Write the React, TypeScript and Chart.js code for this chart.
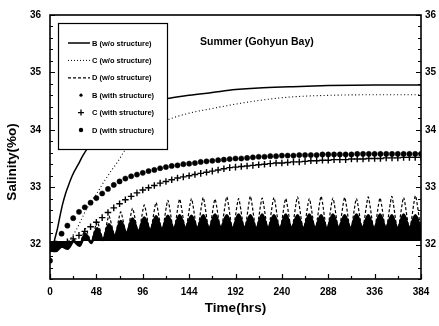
import { useEffect, useRef } from 'react';
import { Chart, registerables } from 'chart.js';

Chart.register(...registerables);

// ---- tick labels / tick positions ----
const X_TICKS = [0, 48, 96, 144, 192, 240, 288, 336, 384];
const X_MINOR = [0, 24, 48, 72, 96, 120, 144, 168, 192, 216, 240, 264, 288, 312, 336, 360, 384];
const Y_TICKS = [32, 33, 34, 35, 36];
const Y_MINOR = [31.4, 31.6, 31.8, 32, 32.2, 32.4, 32.6, 32.8, 33, 33.2, 33.4, 33.6, 33.8, 34, 34.2, 34.4, 34.6, 34.8, 35, 35.2, 35.4, 35.6, 35.8, 36];

const LABELS = [
  'B (w/o structure)',
  'C (w/o structure)',
  'D (w/o structure)',
  'B (with structure)',
  'C (with structure)',
  'D (with structure)',
];

// ---- B (w/o structure): solid ----
const B_WO_T = [0, 3, 5, 8, 10, 13, 16, 18, 23, 30, 34, 39, 48, 60, 72, 84, 96, 108, 120, 144, 168, 192, 216, 248, 288, 336, 384];
const B_WO = [31.9, 31.97, 32.1, 32.3, 32.47, 32.7, 32.88, 32.98, 33.2, 33.42, 33.55, 33.68, 33.86, 34.05, 34.2, 34.32, 34.42, 34.49, 34.54, 34.6, 34.65, 34.7, 34.73, 34.75, 34.77, 34.78, 34.78];

// ---- C (w/o structure): dotted ----
const C_WO_T = [0, 6, 12, 18, 21, 24, 28, 32, 36, 40, 44, 48, 56, 64, 70, 77, 84, 96, 108, 121, 144, 168, 183, 216, 248, 288, 336, 384];
const C_WO = [31.92, 31.94, 31.97, 32.04, 32.1, 32.17, 32.28, 32.42, 32.56, 32.68, 32.79, 32.88, 33.1, 33.3, 33.44, 33.63, 33.78, 33.96, 34.07, 34.17, 34.29, 34.37, 34.42, 34.51, 34.57, 34.6, 34.61, 34.61];

// ---- tidal series: peaks / troughs ----
const OSC_T = [0, 6.1, 12.2, 18.3, 24.4, 30.5, 36.6, 42.7, 48.8, 54.9, 61, 67.1, 73.2, 79.3, 85.4, 91.5, 97.6, 103.7, 109.8, 115.9, 122, 128.1, 134.2, 140.3, 146.4, 152.5, 158.6, 164.7, 170.8, 176.9, 183, 189.1, 195.2, 201.3, 207.4, 213.5, 219.6, 225.7, 231.8, 237.9, 244, 250.1, 256.2, 262.3, 268.4, 274.5, 280.6, 286.7, 292.8, 298.9, 305, 311.1, 317.2, 323.3, 329.4, 335.5, 341.6, 347.7, 353.8, 359.9, 366, 372.1, 378.2, 384];

// D (w/o structure): dashed
const D_WO = [31.9, 31.9, 31.98, 31.94, 32.1, 31.99, 32.28, 32.05, 32.4, 32.1, 32.5, 32.14, 32.57, 32.17, 32.63, 32.2, 32.69, 32.22, 32.73, 32.23, 32.77, 32.24, 32.79, 32.25, 32.8, 32.25, 32.82, 32.24, 32.79, 32.25, 32.83, 32.24, 32.8, 32.25, 32.84, 32.24, 32.81, 32.25, 32.82, 32.24, 32.8, 32.25, 32.83, 32.24, 32.8, 32.25, 32.84, 32.24, 32.81, 32.25, 32.82, 32.24, 32.8, 32.25, 32.83, 32.24, 32.81, 32.25, 32.84, 32.24, 32.82, 32.25, 32.85, 32.22];

// B (with structure): dense band
const B_WITH = [31.9, 31.89, 31.97, 31.93, 32.06, 31.98, 32.18, 32.03, 32.28, 32.08, 32.35, 32.14, 32.41, 32.19, 32.45, 32.22, 32.47, 32.24, 32.49, 32.26, 32.5, 32.27, 32.51, 32.28, 32.5, 32.28, 32.51, 32.27, 32.52, 32.28, 32.51, 32.27, 32.52, 32.28, 32.51, 32.27, 32.52, 32.28, 32.51, 32.27, 32.52, 32.28, 32.51, 32.27, 32.52, 32.28, 32.51, 32.27, 32.52, 32.28, 32.51, 32.27, 32.52, 32.28, 32.51, 32.27, 32.52, 32.28, 32.51, 32.27, 32.52, 32.28, 32.51, 32.24];

// ---- marker series every 6 hours ----
const HOURS = [0, 6, 12, 18, 24, 30, 36, 42, 48, 54, 60, 66, 72, 78, 84, 90, 96, 102, 108, 114, 120, 126, 132, 138, 144, 150, 156, 162, 168, 174, 180, 186, 192, 198, 204, 210, 216, 222, 228, 234, 240, 246, 252, 258, 264, 270, 276, 282, 288, 294, 300, 306, 312, 318, 324, 330, 336, 342, 348, 354, 360, 366, 372, 378, 384];

// C (with structure): plus markers
const C_WITH = [31.92, 31.97, 32.0, 32.05, 32.1, 32.16, 32.23, 32.31, 32.39, 32.47, 32.56, 32.64, 32.71, 32.78, 32.84, 32.9, 32.95, 32.99, 33.03, 33.07, 33.1, 33.13, 33.16, 33.18, 33.2, 33.22, 33.24, 33.26, 33.28, 33.3, 33.32, 33.34, 33.35, 33.36, 33.37, 33.38, 33.39, 33.4, 33.41, 33.42, 33.42, 33.43, 33.44, 33.44, 33.45, 33.46, 33.46, 33.47, 33.47, 33.48, 33.48, 33.48, 33.49, 33.49, 33.49, 33.5, 33.5, 33.5, 33.51, 33.51, 33.51, 33.52, 33.52, 33.52, 33.52];

// D (with structure): filled circles
const D_WITH = [31.72, 32.02, 32.19, 32.33, 32.46, 32.57, 32.65, 32.73, 32.81, 32.89, 32.97, 33.04, 33.1, 33.15, 33.19, 33.22, 33.25, 33.28, 33.3, 33.33, 33.35, 33.37, 33.38, 33.4, 33.41, 33.42, 33.44, 33.45, 33.46, 33.47, 33.48, 33.49, 33.5, 33.5, 33.51, 33.52, 33.53, 33.53, 33.54, 33.54, 33.55, 33.55, 33.55, 33.56, 33.56, 33.56, 33.56, 33.57, 33.57, 33.57, 33.57, 33.57, 33.57, 33.58, 33.58, 33.58, 33.58, 33.58, 33.58, 33.58, 33.58, 33.58, 33.58, 33.58, 33.58];

const TITLE = 'Summer (Gohyun Bay)';
const X_TITLE = 'Time(hrs)';
const Y_TITLE = 'Salinity(%o)';

const FAMILY = '"Liberation Sans", Arial, Helvetica, sans-serif';

function pts(xs: number[], ys: number[]) {
  return xs.map((x, i) => ({ x, y: ys[i] }));
}

export default function App() {
  const ref = useRef<HTMLCanvasElement>(null);

  useEffect(() => {
    if (!ref.current) return;

    const decor = {
      id: 'decor',
      afterDraw(chart: any) {
        const { ctx, chartArea: a, scales } = chart;
        const xs = scales.x;
        const ys = scales.y;
        ctx.save();
        ctx.strokeStyle = '#000';
        ctx.fillStyle = '#000';

        // inward ticks
        ctx.lineWidth = 1.2;
        ctx.beginPath();
        X_MINOR.forEach((v) => {
          const px = Math.round(xs.getPixelForValue(v)) + 0.5;
          const len = X_TICKS.includes(v) ? 5 : 3;
          ctx.moveTo(px, a.bottom);
          ctx.lineTo(px, a.bottom - len);
        });
        Y_MINOR.forEach((v) => {
          const py = Math.round(ys.getPixelForValue(v)) + 0.5;
          const len = Y_TICKS.includes(v) ? 5 : 3;
          ctx.moveTo(a.left, py);
          ctx.lineTo(a.left + len, py);
          ctx.moveTo(a.right, py);
          ctx.lineTo(a.right - len, py);
        });
        ctx.stroke();

        // frame
        ctx.lineWidth = 1.6;
        ctx.strokeRect(a.left, a.top, a.right - a.left, a.bottom - a.top);

        // legend box
        const bx = a.left + 8;
        const by = a.top + 8;
        const bw = 109;
        const bh = 126;
        ctx.fillStyle = '#fff';
        ctx.fillRect(bx, by, bw, bh);
        ctx.fillStyle = '#000';
        ctx.lineWidth = 1.2;
        ctx.strokeRect(bx + 0.5, by + 0.5, bw, bh);

        const rowY0 = by + 20;
        const step = 17.4;
        const sx0 = bx + 10;
        const sx1 = bx + 32;
        const mx = bx + 23;
        ctx.font = `bold 7.5px ${FAMILY}`;
        ctx.textAlign = 'left';
        ctx.textBaseline = 'middle';
        LABELS.forEach((lab, i) => {
          const yy = rowY0 + i * step;
          ctx.save();
          if (i === 0) {
            ctx.lineWidth = 1.5;
            ctx.setLineDash([]);
          } else if (i === 1) {
            ctx.lineWidth = 1;
            ctx.setLineDash([1, 2]);
          } else if (i === 2) {
            ctx.lineWidth = 1.2;
            ctx.setLineDash([3, 2]);
          }
          if (i < 3) {
            ctx.beginPath();
            ctx.moveTo(sx0, yy);
            ctx.lineTo(sx1, yy);
            ctx.stroke();
          } else if (i === 3) {
            ctx.beginPath();
            ctx.arc(mx, yy, 1.6, 0, Math.PI * 2);
            ctx.fill();
          } else if (i === 4) {
            ctx.lineWidth = 1.3;
            ctx.beginPath();
            ctx.moveTo(mx - 3, yy);
            ctx.lineTo(mx + 3, yy);
            ctx.moveTo(mx, yy - 3);
            ctx.lineTo(mx, yy + 3);
            ctx.stroke();
          } else {
            ctx.beginPath();
            ctx.arc(mx, yy, 2.2, 0, Math.PI * 2);
            ctx.fill();
          }
          ctx.restore();
          ctx.fillText(lab, bx + 34, yy + 0.5);
        });

        // annotation
        ctx.font = `bold 10.5px ${FAMILY}`;
        ctx.textAlign = 'left';
        ctx.fillText(TITLE, a.left + 150, a.top + 27);

        // axis titles
        ctx.font = `bold 13.5px ${FAMILY}`;
        ctx.textAlign = 'center';
        ctx.fillText(X_TITLE, (a.left + a.right) / 2, a.bottom + 29);
        ctx.save();
        ctx.translate(12, 162);
        ctx.rotate(-Math.PI / 2);
        ctx.fillText(Y_TITLE, 0, 0);
        ctx.restore();

        ctx.restore();
      },
    };

    const yScaleBase = (position: 'left' | 'right', width: number, pad: number) => ({
      type: 'linear' as const,
      position,
      min: 31.4,
      max: 36,
      grid: { display: false, drawTicks: false },
      border: { display: false },
      afterBuildTicks: (s: any) => {
        s.ticks = Y_TICKS.map((v) => ({ value: v }));
      },
      afterFit: (s: any) => {
        s.width = width;
      },
      ticks: {
        color: '#000',
        padding: pad,
        font: { family: FAMILY, size: 10, weight: 'bold' as const },
        callback: (v: any) => String(v),
      },
    });

    const chart = new Chart(ref.current, {
      type: 'line',
      data: {
        datasets: [
          {
            label: LABELS[0],
            data: pts(B_WO_T, B_WO),
            borderColor: '#000',
            borderWidth: 1.5,
            pointRadius: 0,
            cubicInterpolationMode: 'monotone',
            fill: false,
          },
          {
            label: LABELS[1],
            data: pts(C_WO_T, C_WO),
            borderColor: '#000',
            borderWidth: 1.1,
            borderDash: [1, 2.5],
            pointRadius: 0,
            cubicInterpolationMode: 'monotone',
            fill: false,
          },
          {
            label: LABELS[5],
            data: pts(HOURS, D_WITH),
            showLine: false,
            pointStyle: 'circle',
            pointRadius: 2.6,
            pointBackgroundColor: '#000',
            pointBorderColor: '#000',
            pointBorderWidth: 0.5,
          },
          {
            label: LABELS[4],
            data: pts(HOURS, C_WITH),
            showLine: false,
            pointStyle: 'cross',
            pointRadius: 3.3,
            pointBorderColor: '#000',
            pointBorderWidth: 1.4,
          },
          {
            label: LABELS[2],
            data: pts(OSC_T, D_WO),
            borderColor: '#000',
            borderWidth: 1.2,
            borderDash: [3, 2],
            pointRadius: 0,
            tension: 0.2,
            fill: false,
          },
          {
            label: LABELS[3],
            data: pts(OSC_T, B_WITH),
            borderColor: '#000',
            backgroundColor: '#000',
            borderWidth: 2.8,
            pointRadius: 0,
            cubicInterpolationMode: 'monotone',
            fill: { value: 32.06 },
          },
        ],
      },
      options: {
        animation: false,
        responsive: true,
        maintainAspectRatio: false,
        layout: { padding: { top: 11, left: 0, right: 0, bottom: 0 } },
        plugins: {
          legend: { display: false },
          tooltip: { enabled: false },
          title: { display: false },
        },
        scales: {
          x: {
            type: 'linear',
            min: 0,
            max: 384,
            grid: { display: false, drawTicks: false },
            border: { display: false },
            afterBuildTicks: (s: any) => {
              s.ticks = X_TICKS.map((v) => ({ value: v }));
            },
            afterFit: (s: any) => {
              s.height = 47;
            },
            ticks: {
              color: '#000',
              padding: 7,
              autoSkip: false,
              maxRotation: 0,
              minRotation: 0,
              font: { family: FAMILY, size: 10, weight: 'bold' },
              callback: (v: any) => String(v),
            },
          },
          y: yScaleBase('left', 50, 9),
          y2: yScaleBase('right', 18, 4),
        },
      },
      plugins: [decor],
    } as any);

    return () => chart.destroy();
  }, []);

  return (
    <div style={{ position: 'absolute', left: 0, top: 0, width: 439, height: 326, background: '#fff' }}>
      <canvas ref={ref} />
    </div>
  );
}
